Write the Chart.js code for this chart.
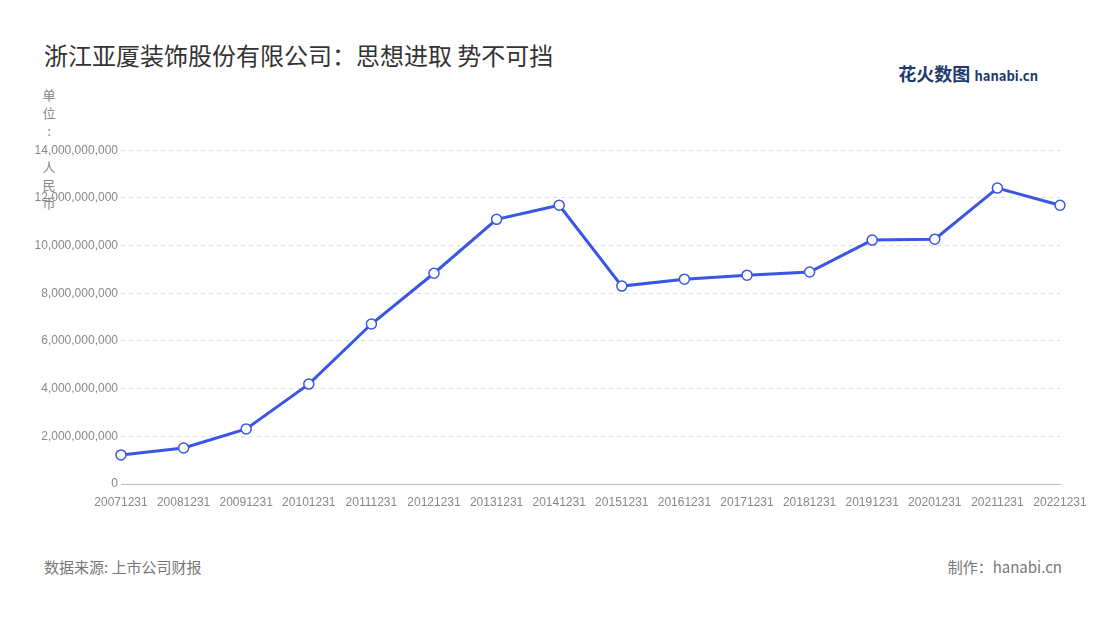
<!DOCTYPE html>
<html><head><meta charset="utf-8">
<script src="https://cdn.jsdelivr.net/npm/chart.js@4"></script>
<style>
body{margin:0;width:1100px;height:620px;background:#fff;font-family:"Noto Sans CJK SC","Noto Sans",sans-serif;position:relative;overflow:hidden}
.t{position:absolute}
#title{left:44px;top:37px;font-size:24px;color:#333}
#unit{left:42px;top:86px;font-size:13px;color:#888;width:14px;line-height:18px;text-align:center}
#src{left:44px;top:556px;font-size:15px;color:#777}
#made{right:38px;top:556px;font-size:15px;color:#777}
#logo{right:62px;top:60px;font-size:18px;font-weight:bold;color:#1f3a6e}
#logo span{font-size:13px}
#box{position:absolute;left:0;top:140px;width:1100px;height:366px}
</style></head><body>
<div class="t" id="title">浙江亚厦装饰股份有限公司：思想进取 势不可挡</div>
<div class="t" id="logo">花火数图 <span>hanabi.cn</span></div>
<div class="t" id="unit">单<br>位<br>:<br><br>人<br>民<br>币</div>
<div id="box"><canvas id="c"></canvas></div>
<div class="t" id="src">数据来源: 上市公司财报</div>
<div class="t" id="made">制作：hanabi.cn</div>
<script>
const years = ['20071231','20081231','20091231','20101231','20111231','20121231','20131231','20141231','20151231','20161231','20171231','20181231','20191231','20201231','20211231','20221231'];
const revenue = [1.22e9,1.51e9,2.31e9,4.19e9,6.71e9,8.84e9,11.1e9,11.69e9,8.30e9,8.59e9,8.76e9,8.89e9,10.23e9,10.27e9,12.41e9,11.69e9];
new Chart(document.getElementById('c'), {
  type: 'line',
  data: { labels: years, datasets: [{
    data: revenue, borderColor: '#3a56e4', borderWidth: 3, tension: 0,
    pointRadius: 5, pointBackgroundColor: '#fff', pointBorderColor: '#3a56e4', pointBorderWidth: 1.5
  }]},
  options: {
    responsive: true, maintainAspectRatio: false, animation: false,
    layout: { padding: { top: 10, right: 40 } },
    plugins: { legend: { display: false }, tooltip: { enabled: false } },
    scales: {
      x: {
        offset: false,
        grid: { display: false },
        border: { color: '#bbb' },
        ticks: { autoSkip: false, maxRotation: 0, color: '#888', font: { size: 12 } },
        afterFit: s => { s.height = 22; }
      },
      y: {
        min: 0, max: 14e9,
        ticks: { stepSize: 2e9, color: '#888', font: { size: 12 }, callback: v => v.toLocaleString('en-US') },
        grid: { color: '#ddd', borderDash: [4, 4], drawTicks: false },
        border: { display: false, dash: [4, 4] },
        afterFit: s => { s.width = 121; }
      }
    }
  }
});
</script>
</body></html>
